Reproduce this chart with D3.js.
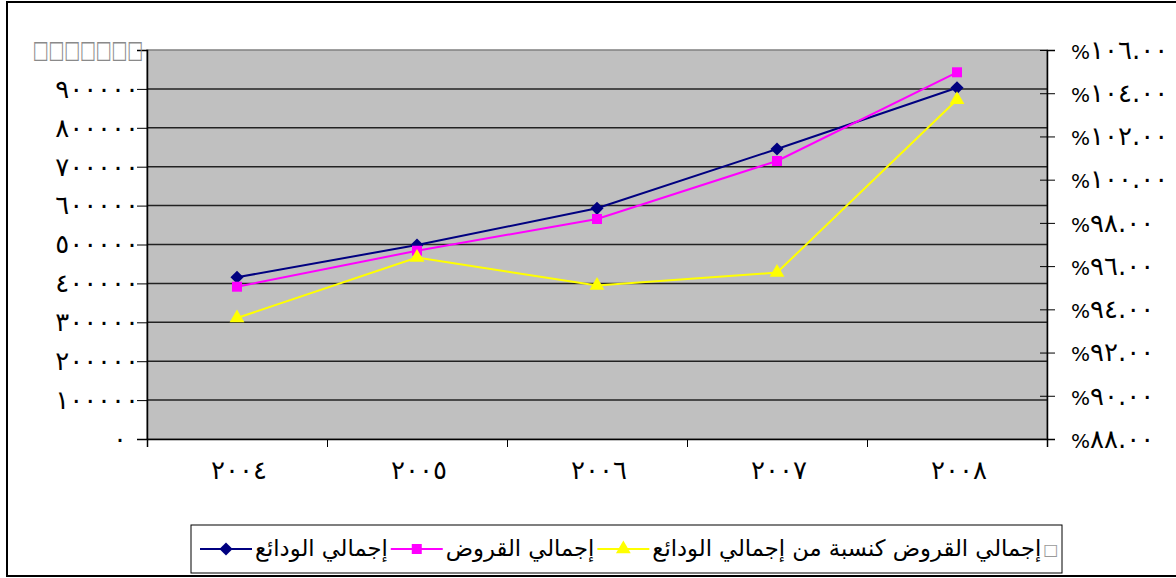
<!DOCTYPE html>
<html>
<head>
<meta charset="utf-8">
<script src="https://cdn.jsdelivr.net/npm/d3@7"></script>
<style>
  body { margin: 0; background: #fff; }
  svg text { font-family: "DejaVu Sans", sans-serif; }
</style>
</head>
<body>
<div id="chart"></div>
<script>
// data
const years = ["٢٠٠٤", "٢٠٠٥", "٢٠٠٦", "٢٠٠٧", "٢٠٠٨"];
const deposits = [415700, 498700, 593000, 745500, 903000];   // إجمالي الودائع
const loans = [391500, 484000, 565600, 714700, 942700];      // إجمالي القروض
const ratio = [93.6, 96.4, 95.1, 95.7, 103.7];               // القروض كنسبة من الودائع

const leftTicks = [0, 100000, 200000, 300000, 400000, 500000, 600000, 700000, 800000, 900000, 1000000];
const leftLabels = ["٠", "١٠٠٠٠٠", "٢٠٠٠٠٠", "٣٠٠٠٠٠", "٤٠٠٠٠٠", "٥٠٠٠٠٠", "٦٠٠٠٠٠", "٧٠٠٠٠٠", "٨٠٠٠٠٠", "٩٠٠٠٠٠", "□□□□□□□"];
const rightTicks = [88, 90, 92, 94, 96, 98, 100, 102, 104, 106];
const rightLabels = ["%٨٨.٠٠", "%٩٠.٠٠", "%٩٢.٠٠", "%٩٤.٠٠", "%٩٦.٠٠", "%٩٨.٠٠", "%١٠٠.٠٠", "%١٠٢.٠٠", "%١٠٤.٠٠", "%١٠٦.٠٠"];
const seriesNames = ["إجمالي الودائع", "إجمالي القروض", "إجمالي القروض كنسبة من إجمالي الودائع"];

const width = 1176, height = 578;
const plot = { left: 147, right: 1047, top: 50, bottom: 439 };

const svg = d3.select("#chart").append("svg")
    .attr("width", width)
    .attr("height", height);

// outer frame
svg.append("rect")
    .attr("x", 7).attr("y", 2)
    .attr("width", 1190).attr("height", 574)
    .attr("fill", "#fff")
    .attr("stroke", "#000")
    .attr("stroke-width", 2);

const x = d3.scaleBand().domain(years).range([plot.left, plot.right]);
const xEdge = d3.scaleLinear().domain([0, years.length]).range([plot.left, plot.right]);
const yLeft = d3.scaleLinear().domain([0, 1000000]).range([plot.bottom, plot.top]);
const yRight = d3.scaleLinear().domain([88, 106]).range([plot.bottom, plot.top]);

// plot area
svg.append("rect")
    .attr("x", plot.left).attr("y", plot.top)
    .attr("width", plot.right - plot.left).attr("height", plot.bottom - plot.top)
    .attr("fill", "#c0c0c0")
    .attr("stroke", "#808080")
    .attr("stroke-width", 1.5);

// gridlines
svg.append("g")
    .selectAll("line")
    .data(leftTicks.slice(1, -1))
    .join("line")
    .attr("x1", plot.left).attr("x2", plot.right)
    .attr("y1", d => yLeft(d)).attr("y2", d => yLeft(d))
    .attr("stroke", "#222")
    .attr("stroke-width", 1.5);

const digitStyle = sel => sel
    .attr("fill", "#000")
    .style("font-size", "26px")
    .style("letter-spacing", "5.5px")
    .style("direction", "ltr")
    .style("unicode-bidi", "bidi-override");

// left axis
const gl = svg.append("g")
    .attr("transform", `translate(${plot.left},0)`)
    .call(d3.axisLeft(yLeft).tickValues(leftTicks).tickFormat((d, i) => leftLabels[i]).tickSize(10).tickPadding(-2));
gl.select(".domain").attr("stroke", "#000").attr("stroke-width", 1.5);
gl.selectAll(".tick line").attr("stroke", "#000");
gl.selectAll(".tick text").call(digitStyle);
// the single zero sits further left in the original
gl.selectAll(".tick text").filter((d, i) => i === 0).attr("x", -20);
// top label shows as missing-glyph boxes
gl.selectAll(".tick text").filter((d, i) => i === leftTicks.length - 1)
    .attr("fill", "#8a8a8a")
    .attr("x", -4)
    .attr("dy", "0.3em")
    .attr("transform", "scale(1,1.45)")
    .style("letter-spacing", "-0.3px")
    .style("font-size", "17px");

// right axis
const gr = svg.append("g")
    .attr("transform", `translate(${plot.right},0)`)
    .call(d3.axisRight(yRight).tickValues(rightTicks).tickFormat("").tickSize(8).tickPadding(16));
gr.select(".domain").attr("stroke", "#000").attr("stroke-width", 1.5);
gr.selectAll(".tick line").attr("x1", -7).attr("stroke", "#000");
gr.selectAll(".tick text").each(function(d, i) {
    const t = d3.select(this).call(digitStyle).style("letter-spacing", "4px");
    t.append("tspan").style("font-size", "20px").style("letter-spacing", "0px").text(rightLabels[i].slice(0, 1));
    t.append("tspan").text(rightLabels[i].slice(1));
});

// bottom axis: edge ticks and category labels
const gb = svg.append("g")
    .attr("transform", `translate(0,${plot.bottom})`)
    .call(d3.axisBottom(xEdge).tickValues(d3.range(years.length + 1)).tickFormat("").tickSize(8));
gb.select(".domain").attr("stroke", "#000").attr("stroke-width", 1.5);
gb.selectAll(".tick line").attr("stroke", "#000");

const gbl = svg.append("g")
    .attr("transform", `translate(2,${plot.bottom})`)
    .call(d3.axisBottom(x).tickSize(0).tickPadding(22));
gbl.select(".domain").remove();
gbl.selectAll(".tick text").call(digitStyle).style("letter-spacing", "4.5px");

const cx = d => x(d) + x.bandwidth() / 2;

const series = [
    { name: seriesNames[0], values: deposits, y: yLeft, color: "#000080", symbol: d3.symbolDiamond2, size: 110 },
    { name: seriesNames[1], values: loans, y: yLeft, color: "#ff00ff", symbol: d3.symbolSquare, size: 100 },
    { name: seriesNames[2], values: ratio, y: yRight, color: "#ffff00", symbol: d3.symbolTriangle, size: 95 }
];

const line = d3.line();

series.forEach(s => {
    const pts = years.map((yr, i) => [cx(yr), s.y(s.values[i])]);
    svg.append("path")
        .attr("d", line(pts))
        .attr("fill", "none")
        .attr("stroke", s.color)
        .attr("stroke-width", 2);
    svg.append("g")
        .selectAll("path")
        .data(pts)
        .join("path")
        .attr("transform", d => `translate(${d[0]},${d[1]})`)
        .attr("d", d3.symbol(s.symbol, s.size))
        .attr("fill", s.color);
});

// legend
const legend = svg.append("g");
legend.append("rect")
    .attr("x", 191).attr("y", 525)
    .attr("width", 871).attr("height", 48)
    .attr("fill", "#fff")
    .attr("stroke", "#000")
    .attr("stroke-width", 1);

const ly = 549, lineLen = 52, gap = 3, legStart = 200, legEnd = 1045;
// measure at 20px, then size the font so the row fills the box
const probe = legend.append("text").style("font-size", "20px");
let natural = 0;
seriesNames.forEach(n => { probe.text(n); natural += probe.node().getComputedTextLength(); });
probe.remove();
const fontSize = 20 * (legEnd - legStart - 3 * (lineLen + 2 * gap)) / natural;

let lx = legStart;
series.forEach(s => {
    legend.append("line")
        .attr("x1", lx).attr("x2", lx + lineLen)
        .attr("y1", ly).attr("y2", ly)
        .attr("stroke", s.color)
        .attr("stroke-width", 2);
    legend.append("path")
        .attr("transform", `translate(${lx + lineLen / 2},${ly})`)
        .attr("d", d3.symbol(s.symbol, s.size))
        .attr("fill", s.color);
    const t = legend.append("text")
        .attr("x", lx + lineLen + gap)
        .attr("y", ly)
        .attr("dy", "0.33em")
        .attr("fill", "#000")
        .style("font-size", fontSize + "px")
        .text(s.name);
    lx += lineLen + gap + t.node().getComputedTextLength() + gap;
});
legend.append("text")
    .attr("x", lx - 1)
    .attr("y", ly)
    .attr("dy", "0.35em")
    .attr("fill", "#999")
    .style("font-size", "16px")
    .text("□");
</script>
</body>
</html>
